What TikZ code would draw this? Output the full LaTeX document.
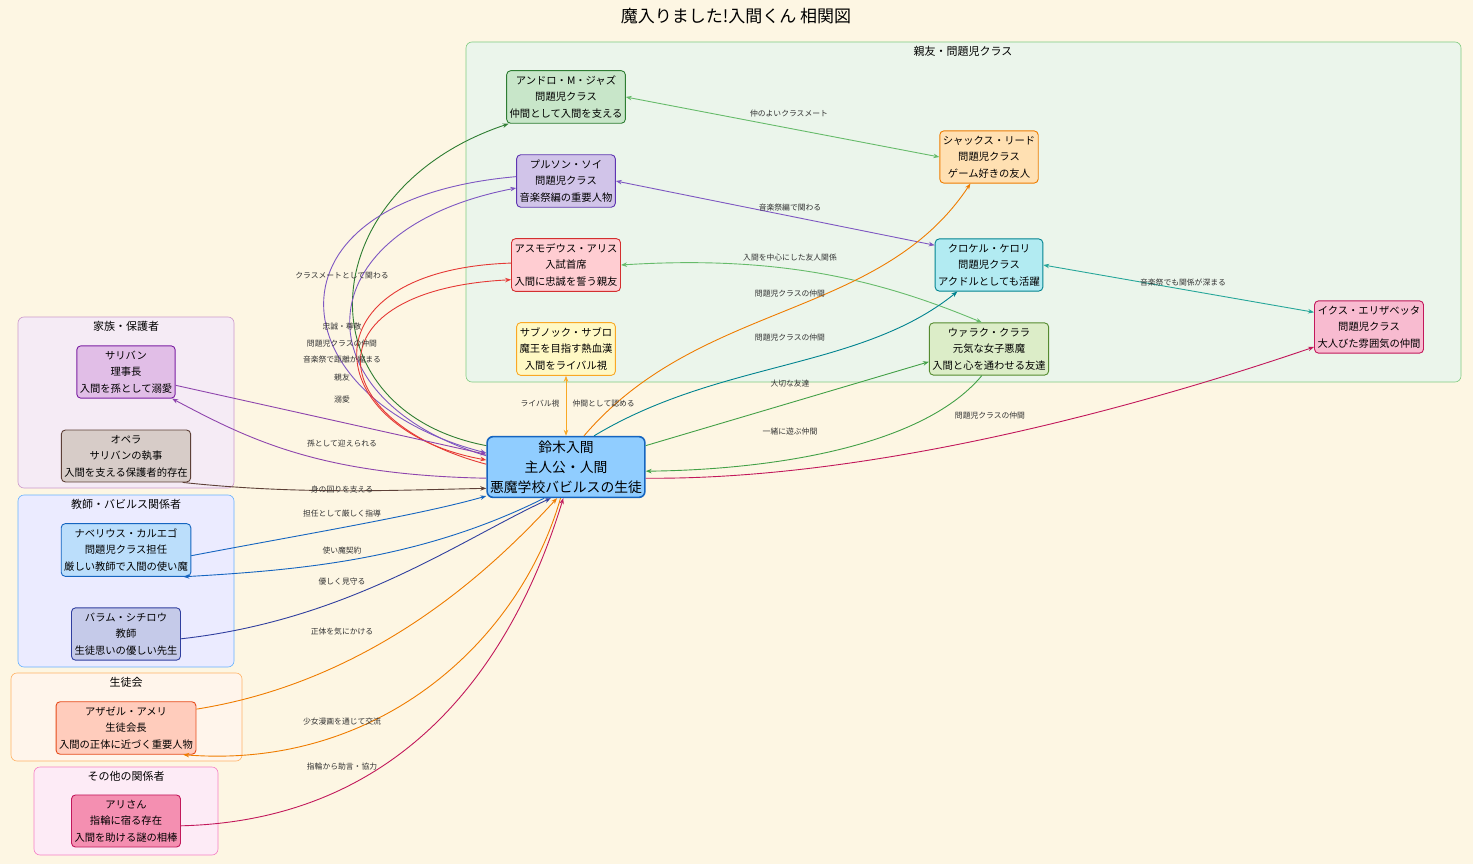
\documentclass[tikz,border=0pt]{standalone}
\usepackage{fontspec}
\setmainfont{Noto Sans CJK JP}
\usetikzlibrary{ arrows.meta, % For small stealth tips
                 positioning, % For easy node-relative placements
               }
\definecolor{bgcol}{HTML}{FDF6E3}
\definecolor{cgreen}{HTML}{2E7D32}
\definecolor{clgreen}{HTML}{66BB6A}
\definecolor{cmgreen}{HTML}{43A047}
\definecolor{cviolet}{HTML}{7E57C2}
\definecolor{cpurple}{HTML}{8E44AD}
\definecolor{cred}{HTML}{E53935}
\definecolor{corange}{HTML}{EF7C00}
\definecolor{cyellow}{HTML}{F9A825}
\definecolor{cteal}{HTML}{00838F}
\definecolor{cteal2}{HTML}{26A69A}
\definecolor{ccrimson}{HTML}{C2185B}
\definecolor{cbrown}{HTML}{5D4037}
\definecolor{cblue}{HTML}{1565C0}
\definecolor{cindigo}{HTML}{303F9F}

\tikzset{
  person/.style={draw, rounded corners=4pt, align=center, line width=0.9pt,
                 inner xsep=3pt, inner ysep=5pt, font=\fontsize{10.3}{16.5}\selectfont},
  group/.style={draw, rounded corners=6pt, line width=0.6pt},
  grouplbl/.style={font=\fontsize{11}{13}\selectfont},
  lbl/.style={font=\fontsize{7.8}{9}\selectfont, text=black!80},
  rel/.style={line width=0.9pt, -{Stealth[length=6pt,width=4.5pt]}},
  both/.style={line width=0.9pt, {Stealth[length=6pt,width=4.5pt]}-{Stealth[length=6pt,width=4.5pt]}},
}

\begin{document}
\begin{tikzpicture}[x=1pt, y=-1pt]
  \fill[bgcol] (0,0) rectangle (1473,864);
  \useasboundingbox (0,0) rectangle (1473,864);
  \node (title) at (736,16) {\fontsize{17}{20}\selectfont 魔入りました!入間くん 相関図};

  % clusters
  \draw[group, fill=green!50!black!8, draw=green!60!black!50] (466,42) rectangle (1461,382);
  \node[grouplbl] (g_friends) at (963,51) {親友・問題児クラス};
  \draw[group, fill=violet!8, draw=violet!40] (18,317) rectangle (234,488);
  \node[grouplbl] (g_family) at (126,326) {家族・保護者};
  \draw[group, fill=blue!8, draw=blue!50!cyan!60] (18,495) rectangle (234,667);
  \node[grouplbl] (g_teacher) at (126,504) {教師・バビルス関係者};
  \draw[group, fill=orange!8, draw=orange!60] (11,673) rectangle (242,761);
  \node[grouplbl] (g_council) at (126,682) {生徒会};
  \draw[group, fill=magenta!8, draw=magenta!50] (34,767) rectangle (218,855);
  \node[grouplbl] (g_other) at (126,776) {その他の関係者};

  % people
  \node[person, fill={rgb,255:red,200;green,230;blue,201}, draw=cgreen] (andro) at (566,97) {アンドロ・M・ジャズ\\問題児クラス\\仲間として入間を支える};
  \node[person, fill={rgb,255:red,209;green,196;blue,233}, draw={rgb,255:red,94;green,53;blue,177}] (bur) at (566,181) {プルソン・ソイ\\問題児クラス\\音楽祭編の重要人物};
  \node[person, fill={rgb,255:red,255;green,205;blue,210}, draw={rgb,255:red,211;green,47;blue,47}] (alice) at (566,265) {アスモデウス・アリス\\入試首席\\入間に忠誠を誓う親友};
  \node[person, fill={rgb,255:red,255;green,249;blue,196}, draw=cyellow] (sab) at (566,349) {サブノック・サブロ\\魔王を目指す熱血漢\\入間をライバル視};
  \node[person, fill={rgb,255:red,255;green,224;blue,178}, draw=corange] (shax) at (989,157) {シャックス・リード\\問題児クラス\\ゲーム好きの友人};
  \node[person, fill={rgb,255:red,178;green,235;blue,242}, draw=cteal] (kro) at (989,265) {クロケル・ケロリ\\問題児クラス\\アクドルとしても活躍};
  \node[person, fill={rgb,255:red,220;green,237;blue,200}, draw={rgb,255:red,85;green,139;blue,47}] (wal) at (989,349) {ウァラク・クララ\\元気な女子悪魔\\入間と心を通わせる友達};
  \node[person, fill={rgb,255:red,248;green,187;blue,208}, draw=ccrimson] (ix) at (1369,327) {イクス・エリザベッタ\\問題児クラス\\大人びた雰囲気の仲間};
  \node[person, fill={rgb,255:red,144;green,205;blue,255}, draw=cblue, line width=1.6pt, rounded corners=6pt, inner ysep=4pt, font=\fontsize{13.8}{20}\selectfont] (iruma) at (566,467) {鈴木入間\\主人公・人間\\悪魔学校バビルスの生徒};
  \node[person, fill={rgb,255:red,225;green,190;blue,231}, draw={rgb,255:red,123;green,31;blue,162}] (sull) at (126,372) {サリバン\\理事長\\入間を孫として溺愛};
  \node[person, fill={rgb,255:red,215;green,204;blue,200}, draw=cbrown] (opera) at (126,456) {オペラ\\サリバンの執事\\入間を支える保護者的存在};
  \node[person, fill={rgb,255:red,187;green,222;blue,251}, draw=cblue] (nab) at (126,550) {ナベリウス・カルエゴ\\問題児クラス担任\\厳しい教師で入間の使い魔};
  \node[person, fill={rgb,255:red,197;green,202;blue,233}, draw=cindigo] (bar) at (126,634) {バラム・シチロウ\\教師\\生徒思いの優しい先生};
  \node[person, fill={rgb,255:red,255;green,204;blue,188}, draw={rgb,255:red,230;green,74;blue,25}] (aza) at (126,728) {アザゼル・アメリ\\生徒会長\\入間の正体に近づく重要人物};
  \node[person, fill={rgb,255:red,244;green,143;blue,177}, draw=ccrimson] (ari) at (126,821) {アリさん\\指輪に宿る存在\\入間を助ける謎の相棒};

  % relations inside the class
  \draw[both, clgreen] (andro.east) -- (shax.west);
  \draw[both, cviolet] (bur.east) -- (kro.160);
  \draw[both, clgreen] (alice.east) .. controls (780,255) and (880,280) .. (wal.105);
  \draw[both, cteal2] (kro.east) -- (ix.165);
  \draw[both, cyellow] (sab.south) -- (iruma.north);

  % relations of iruma
  \draw[rel, cgreen] (iruma.165) .. controls (300,410) and (310,190) .. (andro.205);
  \draw[rel, cviolet] (bur.175) .. controls (250,200) and (280,400) .. (iruma.170);
  \draw[rel, cviolet] (iruma.172) .. controls (300,400) and (300,230) .. (bur.188);
  \draw[rel, cred] (alice.178) .. controls (300,270) and (320,430) .. (iruma.175);
  \draw[rel, cred] (iruma.178) .. controls (320,420) and (310,290) .. (alice.195);
  \draw[rel, corange] (iruma.60) .. controls (700,300) and (880,320) .. (shax.235);
  \draw[rel, cteal] (iruma.48) .. controls (720,360) and (860,370) .. (kro.220);
  \draw[rel, cmgreen] (iruma.15) -- (wal.192);
  \draw[rel, cmgreen] (wal.255) .. controls (920,450) and (760,470) .. (iruma.-3);
  \draw[rel, ccrimson] (iruma.-8) .. controls (850,480) and (1100,420) .. (ix.200);
  \draw[rel, cpurple] (sull.-15) -- (iruma.171);
  \draw[rel, cpurple] (iruma.188) .. controls (320,475) and (250,440) .. (sull.-30);
  \draw[rel, cbrown] (opera.-25) .. controls (300,495) and (400,490) .. (iruma.195);
  \draw[rel, cblue] (nab.-5) .. controls (300,535) and (420,515) .. (iruma.200);
  \draw[rel, cblue] (iruma.235) .. controls (420,560) and (300,570) .. (nab.-25);
  \draw[rel, cindigo] (bar.-5) .. controls (350,620) and (460,540) .. (iruma.244);
  \draw[rel, corange] (aza.15) .. controls (380,680) and (500,560) .. (iruma.254);
  \draw[rel, corange] (iruma.260) .. controls (520,640) and (380,770) .. (aza.-25);
  \draw[rel, ccrimson] (ari.-5) .. controls (420,820) and (520,640) .. (iruma.265);

  % relation labels
  \node[lbl] (l_andro_shax) at (789,114) {仲のよいクラスメート};
  \node[lbl] (l_bur_kro) at (790,208) {音楽祭編で関わる};
  \node[lbl] (l_alice_wal) at (790,258) {入間を中心にした友人関係};
  \node[lbl] (l_kro_ix) at (1183,283) {音楽祭でも関係が深まる};
  \node[lbl] (l_shax) at (790,294) {問題児クラスの仲間};
  \node[lbl] (l_kro) at (790,338) {問題児クラスの仲間};
  \node[lbl] (l_wal) at (790,384) {大切な友達};
  \node[lbl] (l_wal_back) at (790,432) {一緒に遊ぶ仲間};
  \node[lbl] (l_ix) at (990,416) {問題児クラスの仲間};
  \node[lbl, anchor=east] (l_sab) at (563,404) {ライバル視};
  \node[lbl, anchor=west] (l_sab_back) at (569,404) {仲間として認める};
  \node[lbl] (l_andro) at (342,276) {クラスメートとして関わる};
  \node[lbl] (l_alice) at (342,327) {忠誠・尊敬};
  \node[lbl] (l_bur) at (342,344) {問題児クラスの仲間};
  \node[lbl] (l_bur_back) at (342,360) {音楽祭で距離が縮まる};
  \node[lbl] (l_alice_back) at (342,378) {親友};
  \node[lbl] (l_sull) at (342,400) {溺愛};
  \node[lbl] (l_sull_back) at (342,444) {孫として迎えられる};
  \node[lbl] (l_opera) at (342,490) {身の回りを支える};
  \node[lbl] (l_nab) at (342,514) {担任として厳しく指導};
  \node[lbl] (l_nab_back) at (342,551) {使い魔契約};
  \node[lbl] (l_bar) at (342,582) {優しく見守る};
  \node[lbl] (l_aza) at (342,632) {正体を気にかける};
  \node[lbl] (l_aza_back) at (342,722) {少女漫画を通じて交流};
  \node[lbl] (l_ari) at (342,767) {指輪から助言・協力};
\end{tikzpicture}
\end{document}
